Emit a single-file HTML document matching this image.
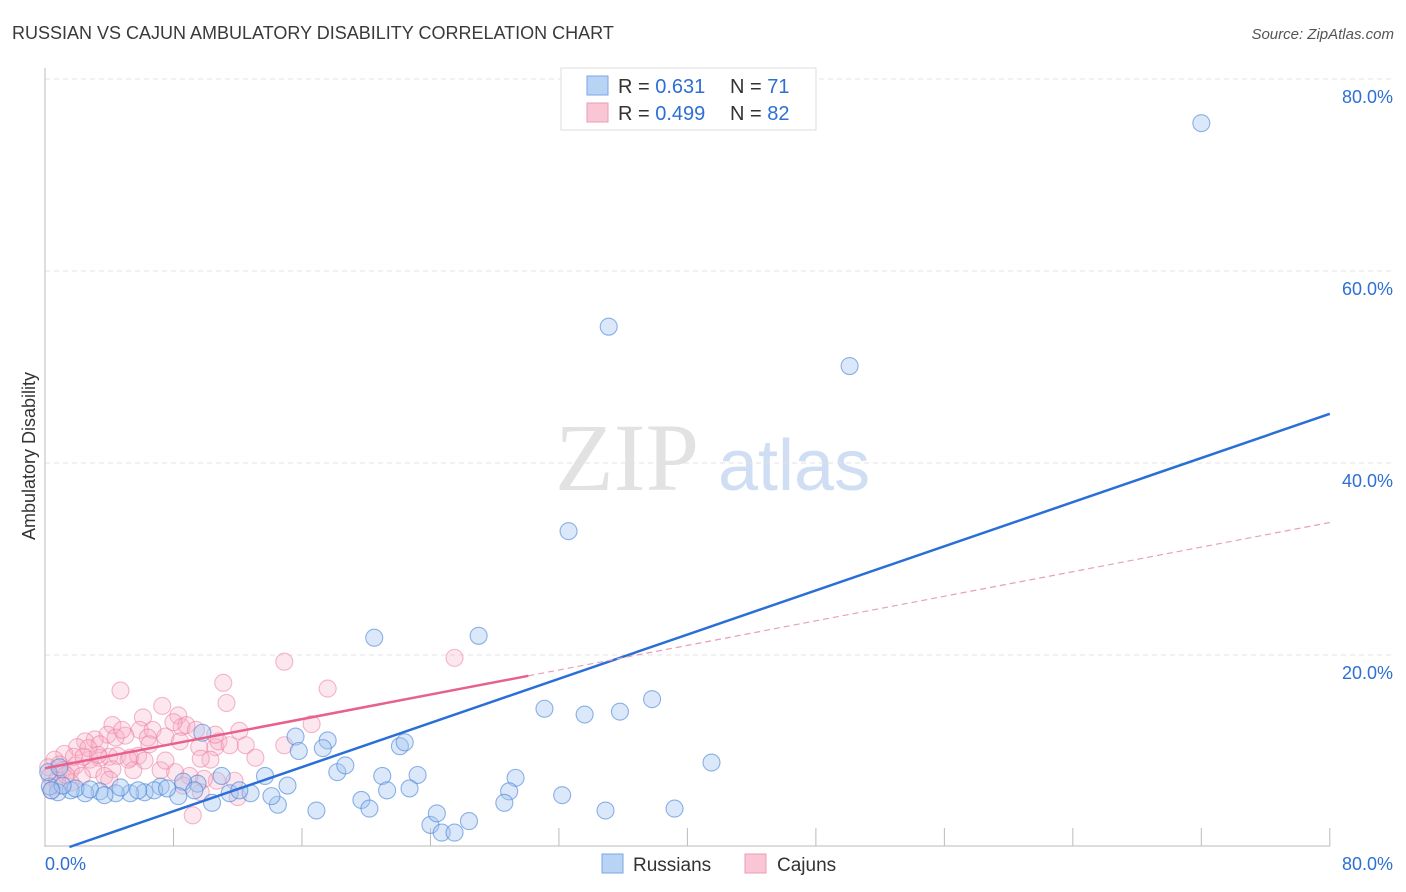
<!DOCTYPE html>
<html><head><meta charset="utf-8"><style>
body{margin:0;background:#fff;font-family:"Liberation Sans",sans-serif;}
#wrap{position:relative;width:1406px;height:892px;overflow:hidden}
</style></head><body>
<div id="wrap">
<svg id="svg" width="1406" height="892" xmlns="http://www.w3.org/2000/svg">
<text x="12" y="39" font-size="18" fill="#3a3a3a">RUSSIAN VS CAJUN AMBULATORY DISABILITY CORRELATION CHART</text>
<text x="1394" y="39" font-size="15" fill="#555" font-style="italic" text-anchor="end">Source: ZipAtlas.com</text>
<text x="35" y="456" font-size="18" fill="#333" text-anchor="middle" transform="rotate(-90 35 456)">Ambulatory Disability</text>
<text x="555" y="490" font-size="96" fill="#e2e2e2" font-family="Liberation Serif,serif">ZIP</text>
<text x="718" y="490" font-size="72" fill="#d0def3">atlas</text>
<g id="grid"></g><g id="pts"></g><g id="lines"></g>
<g>
<rect x="561" y="68" width="255" height="62" fill="#fff" stroke="#ddd"/>
<rect x="587" y="76" width="21" height="19" fill="#b9d3f5" stroke="#7aa6e6"/>
<rect x="587" y="103" width="21" height="19" fill="#f9c6d6" stroke="#ee9ab4"/>
<text x="618" y="93" font-size="20" fill="#333">R = <tspan fill="#2d6fd4"> 0.631</tspan></text>
<text x="730" y="93" font-size="20" fill="#333">N = <tspan fill="#2d6fd4"> 71</tspan></text>
<text x="618" y="120" font-size="20" fill="#333">R = <tspan fill="#2d6fd4">0.499</tspan></text>
<text x="730" y="120" font-size="20" fill="#333">N = <tspan fill="#2d6fd4">82</tspan></text>
</g>
<g>
<rect x="602" y="854" width="21" height="19" fill="#b9d3f5" stroke="#7aa6e6"/>
<text x="633" y="871" font-size="19" fill="#333">Russians</text>
<rect x="745" y="854" width="21" height="19" fill="#f9c6d6" stroke="#ee9ab4"/>
<text x="777" y="871" font-size="19" fill="#333">Cajuns</text>
</g>
<text x="45" y="870" font-size="18" fill="#2d6fd4">0.0%</text>
<text x="1393" y="870" font-size="18" fill="#2d6fd4" text-anchor="end">80.0%</text>
</svg></div>
<script>
const yTicks=[20,40,60,80];
const yTickLabels=["20.0%","40.0%","60.0%","80.0%"];
const xTicks=[0,8,16,24,32,40,48,56,64,72,80];
const russX=[72.0,35.1,50.1,32.6,20.5,27.0,31.1,33.6,35.8,37.8,41.5,15.6,17.6,15.8,17.3,18.2,18.7,13.7,11.0,9.8,9.5,15.1,14.5,16.9,21.0,21.3,22.1,22.4,23.2,22.7,19.7,20.2,24.0,24.4,24.7,25.5,26.4,29.3,28.9,28.6,32.2,34.9,39.2,11.5,10.4,12.8,14.1,12.1,8.6,8.3,7.2,6.2,5.3,4.4,3.4,2.5,1.6,0.8,0.3,0.2,0.9,1.9,2.8,6.8,7.6,9.3,4.7,5.8,3.7,1.1,0.4];
const russY=[75.4,54.2,50.1,32.9,21.8,22.0,14.4,13.8,14.1,15.4,8.8,11.5,11.1,10.0,10.3,7.8,8.5,7.4,7.4,11.9,6.6,6.4,4.4,3.8,7.4,5.9,10.5,10.9,7.5,6.1,4.9,4.0,2.3,3.5,1.5,1.5,2.7,7.2,5.8,4.6,5.4,3.8,4.0,5.6,4.6,5.6,5.3,5.9,6.8,5.3,6.3,5.7,5.6,5.6,5.8,5.6,5.9,5.7,6.3,7.8,8.3,6.1,6.0,5.9,6.1,5.9,6.2,5.9,5.4,6.4,5.9];
const cajX=[14.9,25.5,17.6,4.7,11.1,11.3,7.3,6.1,8.3,8.5,4.2,5.9,6.7,7.5,5.0,3.9,3.1,2.5,3.4,2.0,1.2,0.6,0.2,0.3,0.75,1.1,1.6,1.9,2.8,3.4,4.0,4.5,5.3,5.8,6.2,5.5,4.2,3.0,2.3,1.6,0.8,0.4,8.4,8.8,9.6,10.6,10.8,10.3,12.1,12.5,13.1,10.7,9.9,9.0,8.1,7.2,8.6,9.2,12.0,11.8,16.6,14.9,9.4,8.0,6.4,5.2,3.7,2.7,0.9,1.3,1.8,2.4,4.4,4.8,6.5,7.5,9.7,10.6,11.5,3.3,4.0,9.7];
const cajY=[19.3,19.7,16.5,16.3,17.1,15.0,14.7,13.5,13.7,12.5,12.7,12.2,12.2,11.5,11.6,11.7,11.2,11.0,10.7,10.4,9.7,9.1,8.3,7.4,7.0,8.0,8.0,8.5,9.1,9.3,9.4,9.5,9.3,9.5,9.0,8.0,8.1,8.1,7.4,6.7,6.4,5.9,11.0,12.7,10.4,10.4,11.0,9.1,12.1,10.6,9.3,6.9,7.1,7.4,7.8,8.0,6.4,3.3,5.2,6.9,12.8,10.6,12.2,13.0,11.4,9.1,7.4,10.3,8.6,7.5,9.4,9.4,11.4,12.2,10.7,9.0,9.2,11.7,10.6,9.6,7.0,5.7];
const russLine=[0.575,-0.875];   // slope, intercept
const cajLine=[0.32,8.2];
const cajSolidEnd=30.1;
const X=v=>45+v*16.06, Y=v=>847-v*9.6;
const NS="http://www.w3.org/2000/svg";
function mk(tag,attrs,parent){const e=document.createElementNS(NS,tag);for(const k in attrs)e.setAttribute(k,attrs[k]);parent.appendChild(e);return e;}
const grid=document.getElementById('grid');
yTicks.forEach((t,i)=>{
 const l=mk('line',{x1:45,x2:1394,y1:Y(t),y2:Y(t),stroke:'#e3e3e3','stroke-dasharray':'5,4'},grid);
 
 
 const tx=mk('text',{x:1393,y:Y(t)+24,'font-size':18,fill:'#2d6fd4','text-anchor':'end'},grid);
 tx.textContent=yTickLabels[i];
 
 
});
const ax=mk('line',{x1:45,x2:45,y1:68,y2:847,stroke:'#bbb'},grid);


const bx=mk('line',{x1:45,x2:1330,y1:846,y2:846,stroke:'#bbb'},grid);


xTicks.forEach(t=>{
 const l=mk('line',{x1:X(t),x2:X(t),y1:828,y2:846,stroke:'#bbb'},grid);
 
 
});
const pts=document.getElementById('pts');
cajX.forEach((v,i)=>{
 const c=mk('circle',{cx:X(v),cy:Y(cajY[i]),r:8.5,fill:'rgba(247,175,200,0.3)',stroke:'rgba(235,125,160,0.55)','stroke-width':1.1},pts);
 
 
});
russX.forEach((v,i)=>{
 const c=mk('circle',{cx:X(v),cy:Y(russY[i]),r:8.5,fill:'rgba(165,198,240,0.4)',stroke:'rgba(70,130,215,0.6)','stroke-width':1.1},pts);
 
 
});
const lines=document.getElementById('lines');
const rx0=(0-russLine[1])/russLine[0];
const rl=mk('line',{x1:X(rx0),y1:Y(0),x2:X(80),y2:Y(russLine[0]*80+russLine[1]),stroke:'#2a6fd6','stroke-width':2.5},lines);


const cl=mk('line',{x1:X(0),y1:Y(cajLine[1]),x2:X(cajSolidEnd),y2:Y(cajLine[0]*cajSolidEnd+cajLine[1]),stroke:'#e8608e','stroke-width':2.5},lines);


const cd=mk('line',{x1:X(cajSolidEnd),y1:Y(cajLine[0]*cajSolidEnd+cajLine[1]),x2:X(80),y2:Y(cajLine[0]*80+cajLine[1]),stroke:'#e8a0b8','stroke-width':1.2,'stroke-dasharray':'6,4'},lines);


</script>
</body></html>
